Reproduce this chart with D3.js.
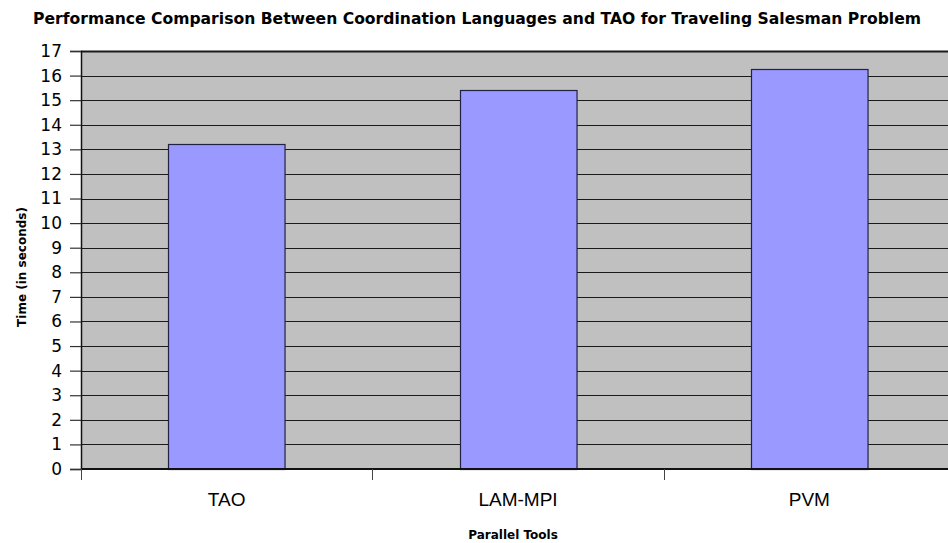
<!DOCTYPE html>
<html>
<head>
<meta charset="utf-8">
<script src="https://cdn.jsdelivr.net/npm/d3@7"></script>
<style>
  html, body { margin: 0; padding: 0; background: #ffffff; }
  svg { display: block; }
</style>
</head>
<body>
<svg id="chart" width="948" height="543"></svg>
<script>
// Execution time of each parallel tool on the Traveling Salesman Problem
const tools = ["TAO", "LAM-MPI", "PVM"];
const timesSec = [13.2, 15.4, 16.25];
const yTicks = d3.range(0, 18);

const W = 948, H = 543;
const margin = { left: 81, top: 51, right: -7, bottom: 74 };
const plotW = W - margin.left - margin.right;
const plotH = H - margin.top - margin.bottom;

const svg = d3.select("#chart");

const x = d3.scaleBand().domain(tools).range([0, plotW]).paddingInner(0.6).paddingOuter(0.3);
const y = d3.scaleLinear().domain([0, 17]).range([plotH, 0]);

const g = svg.append("g").attr("transform", `translate(${margin.left},${margin.top})`);

// plot background
g.append("rect").attr("x", 0).attr("y", 0).attr("width", plotW).attr("height", plotH)
  .attr("fill", "#c0c0c0");

// horizontal grid lines
g.append("g").selectAll("line").data(yTicks.slice(1)).join("line")
  .attr("x1", 0).attr("x2", plotW)
  .attr("y1", d => Math.round(y(d)) + 0.5).attr("y2", d => Math.round(y(d)) + 0.5)
  .attr("stroke", "#1a1a1a").attr("stroke-width", d => d === 17 ? 2 : 1.2);

// bars
g.append("g").selectAll("rect").data(tools).join("rect")
  .attr("x", d => Math.round(x(d)) + 0.5)
  .attr("y", (d, i) => Math.round(y(timesSec[i])) + 0.5)
  .attr("width", x.bandwidth())
  .attr("height", (d, i) => Math.round(y(0)) - Math.round(y(timesSec[i])))
  .attr("fill", "#9999ff")
  .attr("stroke", "#222244").attr("stroke-width", 1.2);

// y axis
const yAxis = d3.axisLeft(y).tickValues(yTicks).tickSize(11).tickPadding(8).tickFormat(d3.format("d"));
const yg = g.append("g").call(yAxis);
yg.select(".domain").attr("stroke", "#111").attr("stroke-width", 1.5);
yg.selectAll(".tick line").attr("stroke", "#333").attr("stroke-width", 1.2);
yg.selectAll(".tick text").attr("font-family", "DejaVu Sans, sans-serif").attr("font-size", 17)
  .attr("fill", "#000");

// x axis with category separators
const xg = g.append("g").attr("transform", `translate(0,${plotH})`);
xg.append("line").attr("x1", 0).attr("x2", plotW).attr("y1", 0).attr("y2", 0)
  .attr("stroke", "#111").attr("stroke-width", 2);
const bounds = tools.map(t => x(t) - x.step() * 0.3);
xg.selectAll("line.sep").data(bounds).join("line").attr("class", "sep")
  .attr("x1", d => Math.round(d) + 0.5).attr("x2", d => Math.round(d) + 0.5)
  .attr("y1", 0).attr("y2", 11).attr("stroke", "#444").attr("stroke-width", 1);
xg.selectAll("text.cat").data(tools).join("text").attr("class", "cat")
  .attr("x", d => x(d) + x.bandwidth() / 2).attr("y", 37)
  .attr("text-anchor", "middle")
  .attr("font-family", "Liberation Sans, Arial, sans-serif").attr("font-size", 19)
  .attr("fill", "#000").text(d => d);

// titles
svg.append("text").attr("x", 477).attr("y", 24).attr("text-anchor", "middle")
  .attr("font-family", "DejaVu Sans, sans-serif").attr("font-weight", "bold").attr("font-size", 16)
  .attr("textLength", 888).attr("lengthAdjust", "spacingAndGlyphs")
  .attr("fill", "#000")
  .text("Performance Comparison Between Coordination Languages and TAO for Traveling Salesman Problem");

svg.append("text").attr("x", 513).attr("y", 539).attr("text-anchor", "middle")
  .attr("font-family", "DejaVu Sans, sans-serif").attr("font-weight", "bold").attr("font-size", 12)
  .attr("fill", "#000").text("Parallel Tools");

svg.append("text").attr("transform", "translate(26,267) rotate(-90)").attr("text-anchor", "middle")
  .attr("font-family", "DejaVu Sans, sans-serif").attr("font-weight", "bold").attr("font-size", 12)
  .attr("fill", "#000").text("Time (in seconds)");
</script>
</body>
</html>
